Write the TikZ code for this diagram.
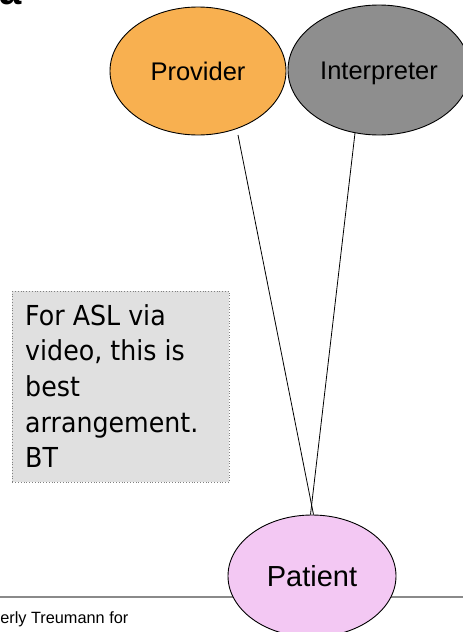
\documentclass[tikz,border=0pt]{standalone}
\usepackage{fontspec}
\setmainfont{Liberation Sans}
\newfontfamily\notefont[FakeStretch=0.92]{DejaVu Sans}
\usetikzlibrary{shapes.geometric}
\definecolor{provfill}{HTML}{F8B050}
\definecolor{interpfill}{HTML}{8E8E8E}
\definecolor{patfill}{HTML}{F3C8F3}
\definecolor{notefill}{HTML}{E0E0E0}
\definecolor{rulegray}{HTML}{8A8A8A}
\tikzset{
  role/.style={ellipse, draw=black, line width=0.9pt, inner sep=0pt,
    minimum width=#1, text height=18pt, text depth=0pt, font=\fontsize{25.5}{30}\selectfont},
  link/.style={draw=black, line width=0.8pt},
  notebox/.style={draw=gray, dotted, line width=0.8pt, fill=notefill,
    minimum width=217pt, minimum height=191pt, anchor=north west}
}
\begin{document}
\begin{tikzpicture}[x=1pt,y=-1pt]
\useasboundingbox (0,0) rectangle (463,632);
\clip (0,0) rectangle (463,632);

% slide title remnant and footer rule
\node[anchor=base west, inner sep=0pt, font=\bfseries\fontsize{40}{40}\selectfont] (title) at (-1,4) {a};
\draw[rulegray, line width=1.6pt] (0,597) coordinate (ruleL) -- (463,597) coordinate (ruleR);
\node[anchor=base west, inner sep=0pt, font=\fontsize{16.3}{19}\selectfont] (credit) at (-28,623) {Beverly Treumann for};

% participants
\node[role=176pt, minimum height=128pt, fill=provfill] (prov) at (198,71) {Provider};
\node[role=182pt, minimum height=130pt, fill=interpfill] (interp) at (379,70) {Interpreter};
\node[role=168pt, minimum height=122pt, fill=patfill, text height=20pt, font=\fontsize{29}{32}\selectfont] (pat) at (312,576) {Patient};

% sight lines
\coordinate (provfoot) at (238,135);
\coordinate (interpfoot) at (355,133);
\draw[link] (provfoot) -- ([xshift=1.5pt]pat.north);
\draw[link] (interpfoot) -- ([xshift=-1.5pt]pat.north);

% note
\node[notebox] (note) at (12,291) {};
\node[anchor=north west, inner sep=0pt, align=left,
  font=\notefont\fontsize{27.5}{35.7}\selectfont] (notetext) at (25,304)
  {For ASL via\\video, this is\\best\\arrangement.\\BT};
\end{tikzpicture}
\end{document}
